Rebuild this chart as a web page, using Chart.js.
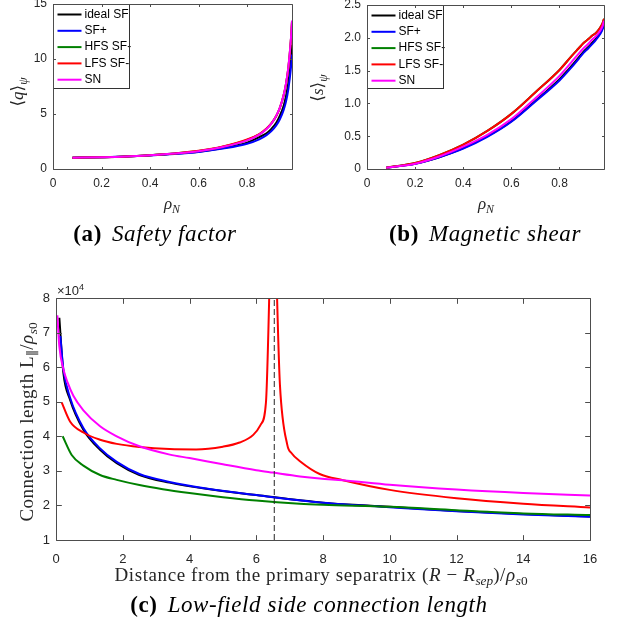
<!DOCTYPE html>
<html>
<head>
<meta charset="utf-8">
<script src="https://cdn.jsdelivr.net/npm/chart.js@4.4.1/dist/chart.umd.min.js"></script>
<style>
  body { margin: 0; background: #fff; }
  #fig { position: relative; width: 618px; height: 631px; overflow: hidden; background: #fff; }
  canvas { position: absolute; }
  .lbl { position: absolute; white-space: nowrap; transform: translate(-50%, -50%); font-family: "Liberation Serif", "DejaVu Serif", serif; color: #262626; line-height: 1; }
  .rot { transform: translate(-50%, -50%) rotate(-90deg); }
  .vlab { position: absolute; white-space: nowrap; text-align: center; font-family: "Liberation Serif", "DejaVu Serif", serif; color: #262626; transform: rotate(-90deg); }
  .sub { font-size: 70%; position: relative; top: 0.3em; letter-spacing: 0; }
  .cap { font-size: 23px; color: #000; letter-spacing: 0.6px; }
  .cap i { margin-left: 10px; }
  .exp { position: absolute; font-family: "Liberation Sans", Arial, sans-serif; font-size: 13px; color: #262626; transform: translateY(-50%); }
  .exp sup { font-size: 9px; }
</style>
</head>
<body>
<div id="fig">
  <canvas id="chartQ" width="309" height="195" style="left:0;top:0"></canvas>
  <canvas id="chartS" width="309" height="195" style="left:309px;top:0"></canvas>
  <canvas id="chartL" width="618" height="300" style="left:0;top:280px"></canvas>

  <div class="lbl rot" style="left:17px;top:92px;font-size:17px">⟨<i>q</i>⟩<span class="sub"><i>ψ</i></span></div>
  <div class="lbl" style="left:172px;top:203px;font-size:17px"><i>ρ</i><span class="sub"><i>N</i></span></div>
  <div class="lbl cap" style="left:155px;top:233px"><b>(a)</b><i>Safety factor</i></div>

  <div class="lbl rot" style="left:317px;top:88px;font-size:17px">⟨<i>s</i>⟩<span class="sub"><i>ψ</i></span></div>
  <div class="lbl" style="left:486px;top:203px;font-size:17px"><i>ρ</i><span class="sub"><i>N</i></span></div>
  <div class="lbl cap" style="left:485px;top:233px"><b>(b)</b><i>Magnetic shear</i></div>

  <div class="exp" style="left:57px;top:290px">×10<sup>4</sup></div>
  <div class="vlab" style="left:-93px;top:412px;width:240px;height:20px;line-height:20px;font-size:19px;letter-spacing:0.5px">Connection length L<span class="sub">∥</span>/<i>ρ</i><span class="sub"><i>s</i>0</span></div>
  <div class="lbl" style="left:321px;top:574px;font-size:19px;letter-spacing:0.6px">Distance from the primary separatrix (<i>R</i> − <i>R</i><span class="sub"><i>sep</i></span>)/<i>ρ</i><span class="sub"><i>s</i>0</span></div>
  <div class="lbl cap" style="left:309px;top:604px"><b>(c)</b><i>Low-field side connection length</i></div>
</div>
<script>
const seriesLabels = ['ideal SF', 'SF+', 'HFS SF-', 'LFS SF-', 'SN'];
const seriesColors = ['#000000', '#0000ff', '#008000', '#ff0000', '#ff00ff'];

// (a) safety factor and (b) magnetic shear, against rho_N
const rho = [0.08, 0.2, 0.3, 0.4, 0.5, 0.6, 0.7, 0.8, 0.85, 0.88, 0.9, 0.92, 0.935, 0.95, 0.96, 0.97, 0.98, 0.985];
const qIdeal = [1.02, 1.07, 1.13, 1.24, 1.38, 1.57, 1.9, 2.4, 2.9, 3.25, 3.65, 4.2, 4.85, 5.7, 6.6, 7.8, 9.8, 11.3];
const qSFplus = [1.02, 1.07, 1.13, 1.23, 1.36, 1.55, 1.86, 2.3, 2.7, 3.08, 3.44, 3.96, 4.52, 5.33, 6.1, 7.27, 9.07, 10.4];
const qHFS = [1.02, 1.07, 1.14, 1.26, 1.41, 1.63, 2.02, 2.64, 3.15, 3.66, 4.14, 4.82, 5.56, 6.65, 7.7, 9.2, 11.6, 13.4];
const qLFS = [1.02, 1.07, 1.14, 1.26, 1.42, 1.65, 2.05, 2.68, 3.18, 3.68, 4.15, 4.82, 5.56, 6.65, 7.7, 9.2, 11.6, 13.4];
const qSN = [1.02, 1.07, 1.14, 1.26, 1.41, 1.62, 2.0, 2.6, 3.13, 3.64, 4.13, 4.83, 5.58, 6.68, 7.74, 9.27, 11.7, 13.5];

const sIdeal = [0.02, 0.08, 0.18, 0.32, 0.5, 0.73, 1.04, 1.37, 1.57, 1.7, 1.79, 1.86, 1.92, 1.98, 2.03, 2.08, 2.16, 2.22];
const sSFplus = [0.02, 0.08, 0.18, 0.31, 0.49, 0.72, 1.03, 1.35, 1.55, 1.68, 1.77, 1.84, 1.9, 1.96, 2.01, 2.06, 2.14, 2.2];
const sHFS = [0.02, 0.09, 0.21, 0.37, 0.58, 0.84, 1.17, 1.51, 1.72, 1.84, 1.92, 1.98, 2.03, 2.07, 2.11, 2.16, 2.23, 2.29];
const sLFS = [0.02, 0.09, 0.21, 0.37, 0.58, 0.84, 1.17, 1.51, 1.72, 1.84, 1.92, 1.98, 2.03, 2.07, 2.11, 2.16, 2.23, 2.29];
const sSN = [0.02, 0.08, 0.19, 0.34, 0.52, 0.76, 1.08, 1.42, 1.63, 1.76, 1.84, 1.91, 1.97, 2.02, 2.06, 2.11, 2.19, 2.26];

// (c) connection length (units of 1e4) against distance from separatrix
const lcIdealX = [0.1, 0.22, 0.42, 0.82, 1.32, 1.82, 2.5, 3.4, 4.5, 6, 8, 10, 12, 14, 16];
const lcIdealY = [7.43, 5.84, 5.06, 4.19, 3.61, 3.22, 2.88, 2.66, 2.48, 2.3, 2.08, 1.96, 1.84, 1.75, 1.68];
const lcSFplusX = [0.13, 0.22, 0.42, 0.82, 1.32, 1.82, 2.5, 3.4, 4.5, 6, 8, 10, 12, 14, 16];
const lcSFplusY = [6.9, 5.95, 5.12, 4.24, 3.65, 3.26, 2.91, 2.68, 2.49, 2.3, 2.08, 1.95, 1.83, 1.74, 1.67];
const lcHFSX = [0.2, 0.47, 0.82, 1.32, 1.82, 2.5, 3.2, 4, 5, 6, 7.3, 8, 10, 12, 14, 16];
const lcHFSY = [4.0, 3.46, 3.15, 2.88, 2.74, 2.59, 2.47, 2.36, 2.24, 2.14, 2.05, 2.02, 1.96, 1.86, 1.77, 1.72];
const lcLFSX = [0.17, 0.42, 0.82, 1.32, 1.82, 2.5, 3.4, 4.2, 5, 5.5, 5.91, 6.13, 6.29, 6.5, 6.71, 6.93, 7.06, 7.31, 7.9, 8.6, 10, 12, 14, 16];
const lcLFSY = [4.98, 4.43, 4.11, 3.9, 3.78, 3.69, 3.63, 3.62, 3.7, 3.82, 4.04, 4.33, 4.97, 11, 5.48, 3.75, 3.51, 3.28, 2.91, 2.73, 2.45, 2.21, 2.05, 1.94];
const lcSNX = [0.04, 0.1, 0.22, 0.35, 0.52, 0.82, 1.32, 1.82, 2.5, 3.41, 4, 5, 6, 6.5, 7.31, 7.9, 8.6, 10, 12, 14, 16];
const lcSNY = [7.5, 6.6, 5.95, 5.55, 5.17, 4.75, 4.29, 4.0, 3.71, 3.47, 3.37, 3.19, 3.02, 2.95, 2.84, 2.78, 2.73, 2.6, 2.46, 2.36, 2.29];
const secondarySepX = 6.54;

function pts(xs, ys) {
    return xs.map((x, i) => ({ x: x, y: ys[i] }));
}

function series(i, xs, ys) {
    return {
        label: seriesLabels[i],
        data: pts(xs, ys),
        borderColor: seriesColors[i],
        backgroundColor: seriesColors[i],
        borderWidth: 2,
        pointRadius: 0,
        cubicInterpolationMode: 'monotone',
        order: 4 - i   // last series (SN) drawn on top, like MATLAB
    };
}

// box around the axes, inward ticks on all four sides, optional MATLAB-style legend
const matlabAxes = {
    id: 'matlabAxes',
    afterDatasetsDraw(chart, args, opts) {
        const { ctx, chartArea: a, scales } = chart;
        const L = Math.round(a.left) + 0.5, T = Math.round(a.top) + 0.5;
        const R = Math.round(a.right) + 0.5, B = Math.round(a.bottom) + 0.5;
        ctx.save();
        if (opts.legend) {
            const items = chart.data.datasets.filter(d => d.label);
            ctx.fillStyle = '#fff';
            ctx.fillRect(L, T, opts.legendW, opts.legendH);
            ctx.font = '12px "Liberation Sans", Arial, sans-serif';
            ctx.textBaseline = 'middle';
            items.forEach((d, i) => {
                const yy = T + 10 + i * 16.3;
                ctx.strokeStyle = d.borderColor;
                ctx.lineWidth = 2;
                ctx.beginPath();
                ctx.moveTo(L + 4, yy);
                ctx.lineTo(L + 28, yy);
                ctx.stroke();
                ctx.fillStyle = '#000';
                ctx.fillText(d.label, L + 31, yy);
            });
            ctx.strokeStyle = '#333';
            ctx.lineWidth = 1;
            ctx.strokeRect(L, T, opts.legendW, opts.legendH);
        }
        const len = Math.max(2.5, 0.01 * Math.max(a.width, a.height));
        ctx.strokeStyle = '#4d4d4d';
        ctx.lineWidth = 1;
        ctx.beginPath();
        scales.x.ticks.forEach(t => {
            const px = Math.round(scales.x.getPixelForValue(t.value)) + 0.5;
            ctx.moveTo(px, B); ctx.lineTo(px, B - len);
            ctx.moveTo(px, T); ctx.lineTo(px, T + len);
        });
        scales.y.ticks.forEach(t => {
            const py = Math.round(scales.y.getPixelForValue(t.value)) + 0.5;
            ctx.moveTo(L, py); ctx.lineTo(L + len, py);
            ctx.moveTo(R, py); ctx.lineTo(R - len, py);
        });
        ctx.rect(L, T, R - L, B - T);
        ctx.stroke();
        ctx.restore();
    }
};

function makeChart(id, datasets, cfg) {
    const tickFont = { family: '"Liberation Sans", Arial, sans-serif', size: cfg.fontSize };
    return new Chart(document.getElementById(id), {
        type: 'line',
        data: { datasets: datasets },
        options: {
            responsive: false,
            animation: false,
            events: [],
            layout: { padding: cfg.padding },
            plugins: {
                legend: { display: false },
                tooltip: { enabled: false },
                matlabAxes: cfg.legend
            },
            scales: {
                x: {
                    type: 'linear',
                    min: cfg.x[0], max: cfg.x[1],
                    grid: { display: false, drawTicks: false },
                    border: { display: false },
                    ticks: { stepSize: cfg.x[2], includeBounds: false, color: '#262626', font: tickFont, padding: cfg.xPad, maxRotation: 0 },
                    afterFit: s => { s.height = cfg.xHeight; s.paddingLeft = 0; s.paddingRight = 0; }
                },
                y: {
                    min: cfg.y[0], max: cfg.y[1],
                    grid: { display: false, drawTicks: false },
                    border: { display: false },
                    ticks: { stepSize: cfg.y[2], color: '#262626', font: tickFont, padding: 6 },
                    afterFit: s => { s.width = cfg.yWidth; s.paddingTop = 0; s.paddingBottom = 0; }
                }
            }
        },
        plugins: [matlabAxes]
    });
}

makeChart('chartQ', [
    series(0, rho, qIdeal), series(1, rho, qSFplus), series(2, rho, qHFS),
    series(3, rho, qLFS), series(4, rho, qSN)
], {
    fontSize: 12, padding: { left: 0, top: 4, right: 17, bottom: 0 },
    x: [0, 0.985, 0.2], y: [0, 15, 5], xHeight: 26, yWidth: 53, xPad: 7,
    legend: { legend: true, legendW: 76, legendH: 84 }
});

makeChart('chartS', [
    series(0, rho, sIdeal), series(1, rho, sSFplus), series(2, rho, sHFS),
    series(3, rho, sLFS), series(4, rho, sSN)
], {
    fontSize: 12, padding: { left: 0, top: 5, right: 14, bottom: 0 },
    x: [0, 0.985, 0.2], y: [0, 2.5, 0.5], xHeight: 26, yWidth: 58, xPad: 7,
    legend: { legend: true, legendW: 76, legendH: 83 }
});

makeChart('chartL', [
    series(0, lcIdealX, lcIdealY), series(1, lcSFplusX, lcSFplusY), series(2, lcHFSX, lcHFSY),
    series(3, lcLFSX, lcLFSY), series(4, lcSNX, lcSNY),
    {
        data: pts([secondarySepX, secondarySepX], [1, 8]),
        borderColor: '#262626', borderWidth: 1, borderDash: [6, 3],
        pointRadius: 0, order: -1
    }
], {
    fontSize: 13, padding: { left: 0, top: 18, right: 28, bottom: 0 },
    x: [0, 16, 2], y: [1, 8, 1], xHeight: 40, yWidth: 56, xPad: 12,
    legend: { legend: false }
});
</script>
</body>
</html>
